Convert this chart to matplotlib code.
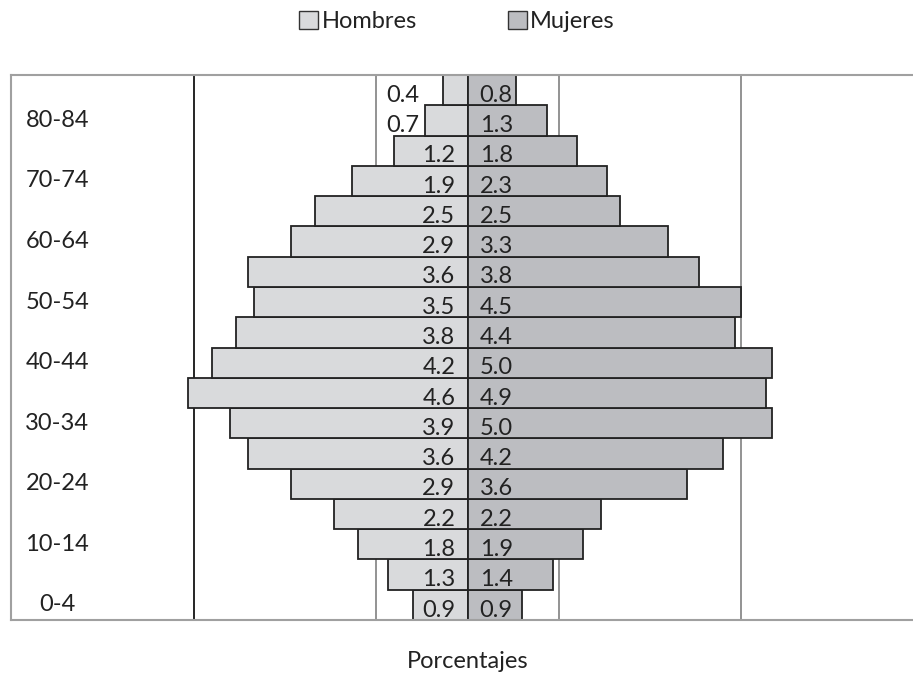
import numpy as np
import matplotlib.pyplot as plt
from matplotlib.patches import Patch

ages = ['0-4', '5-9', '10-14', '15-19', '20-24', '25-29', '30-34', '35-39', '40-44',
        '45-49', '50-54', '55-59', '60-64', '65-69', '70-74', '75-79', '80-84', '85+']
hombres = [0.9, 1.3, 1.8, 2.2, 2.9, 3.6, 3.9, 4.6, 4.2, 3.8, 3.5, 3.6, 2.9, 2.5, 1.9, 1.2, 0.7, 0.4]
mujeres = [0.9, 1.4, 1.9, 2.2, 3.6, 4.2, 5.0, 4.9, 5.0, 4.4, 4.5, 3.8, 3.3, 2.5, 2.3, 1.8, 1.3, 0.8]
grid_x = [-4.5, -1.5, 1.5, 4.5]

plt.rcParams['font.family'] = ['Lato', 'DejaVu Sans']
fs = 17
c_h = '#d9dadc'
c_m = '#bcbdc1'

fig = plt.figure(figsize=(9.13, 6.76), dpi=100)
W, H = 913, 676
ax = fig.add_axes([11 / W, (H - 620) / H, 913 / W, 545 / H])

y = np.arange(len(ages))
for gx in grid_x:
    ax.axvline(gx, color='#000000' if gx == -4.5 else '#808080', lw=1.2, zorder=0)

ax.barh(y, [-v for v in hombres], height=1.0, color=c_h, edgecolor='#222222', lw=1.3, zorder=2)
ax.barh(y, mujeres, height=1.0, color=c_m, edgecolor='#222222', lw=1.3, zorder=2)

# labels sit near the centre line, small male bars push the label outside
for i, (h, m) in enumerate(zip(hombres, mujeres)):
    xh = -0.2 if h >= 0.8 else -0.8
    ax.text(xh, i - 0.17, f'{h:.1f}', ha='right', va='center', fontsize=fs, color='#222222', zorder=3)
    ax.text(0.2, i - 0.17, f'{m:.1f}', ha='left', va='center', fontsize=fs, color='#222222', zorder=3)

for i, a in enumerate(ages):
    if i % 2 == 0:
        ax.text(-6.74, i, a, ha='center', va='center', fontsize=fs, color='#222222')

ax.set_xlim(-7.5, 7.5)
ax.set_ylim(-0.5, len(ages) - 0.5)
ax.set_xticks([])
ax.set_yticks([])
for s in ax.spines.values():
    s.set_color('#a0a0a0')
    s.set_linewidth(1.5)

handles = [Patch(facecolor=c_h, edgecolor='#333333', label='Hombres'),
           Patch(facecolor=c_m, edgecolor='#333333', label='Mujeres')]
fig.legend(handles=handles, loc='upper center', bbox_to_anchor=(457 / W, 1.015), ncol=2,
           frameon=False, fontsize=fs, handlelength=0.8, handleheight=0.8,
           handletextpad=0.15, columnspacing=3.85, labelcolor='#222222')

fig.text(468 / W, 1 - 661 / H, 'Porcentajes', ha='center', va='center', fontsize=fs, color='#222222')

fig.savefig('out.png', dpi=100)
